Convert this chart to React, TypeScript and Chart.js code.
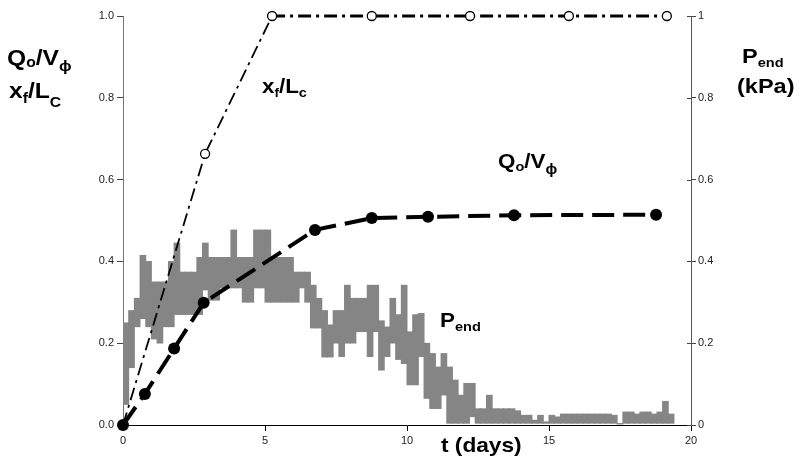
import React, { useEffect, useRef } from "react";
import { Chart, registerables } from "chart.js";

Chart.register(...registerables);

// P_end (kPa) noisy record: bin centres (days), low and high envelope
const pendDays = [
  0.1, 0.3, 0.5, 0.7, 0.9, 1.1, 1.3, 1.5, 1.7, 1.9,
  2.1, 2.3, 2.5, 2.7, 2.9, 3.1, 3.3, 3.5, 3.7, 3.9,
  4.1, 4.3, 4.5, 4.7, 4.9, 5.1, 5.3, 5.5, 5.7, 5.9,
  6.1, 6.3, 6.5, 6.7, 6.9, 7.1, 7.3, 7.5, 7.7, 7.9,
  8.1, 8.3, 8.5, 8.7, 8.9, 9.1, 9.3, 9.5, 9.7, 9.9,
  10.1, 10.3, 10.5, 10.7, 10.9, 11.1, 11.3, 11.5, 11.7, 11.9,
  12.1, 12.3, 12.5, 12.7, 12.9, 13.1, 13.3, 13.5, 13.7, 13.9,
  14.1, 14.3, 14.5, 14.7, 14.9, 15.1, 15.3, 15.5, 15.7, 15.9,
  16.1, 16.3, 16.5, 16.7, 16.9, 17.1, 17.3, 17.5, 17.7, 17.9,
  18.1, 18.3, 18.5, 18.7, 18.9, 19.1, 19.3,
];
const pendLow = [
  0.05, 0.14, 0.24, 0.26, 0.24, 0.21, 0.2, 0.24, 0.24, 0.27,
  0.27, 0.27, 0.27, 0.27, 0.33, 0.305, 0.305, 0.335, 0.335, 0.335,
  0.335, 0.3, 0.3, 0.335, 0.335, 0.3, 0.3, 0.3, 0.3, 0.3,
  0.3, 0.335, 0.3, 0.237, 0.237, 0.166, 0.166, 0.2, 0.167, 0.2,
  0.2, 0.228, 0.228, 0.167, 0.228, 0.134, 0.167, 0.2, 0.16, 0.15,
  0.098, 0.098, 0.167, 0.065, 0.04, 0.04, 0.073, 0.004, 0.004, 0.004,
  0.004, 0.02, 0.004, 0.004, 0.004, 0.004, 0.004, 0.004, 0.004, 0.004,
  0.004, 0.004, 0.004, 0.004, 0.004, 0.004, 0.004, 0.004, 0.004, 0.004,
  0.004, 0.004, 0.004, 0.004, 0.004, 0.004, 0.004, 0.002, 0.004, 0.004,
  0.004, 0.004, 0.004, 0.004, 0.004, 0.004, 0.004,
];
const pendHigh = [
  0.25, 0.28, 0.31, 0.415, 0.4, 0.35, 0.35, 0.35, 0.4, 0.445,
  0.374, 0.374, 0.374, 0.41, 0.445, 0.41, 0.41, 0.41, 0.41, 0.477,
  0.41, 0.41, 0.41, 0.477, 0.477, 0.477, 0.41, 0.41, 0.41, 0.41,
  0.374, 0.374, 0.374, 0.342, 0.31, 0.28, 0.245, 0.28, 0.28, 0.342,
  0.31, 0.31, 0.31, 0.342, 0.342, 0.255, 0.24, 0.31, 0.27, 0.342,
  0.228, 0.27, 0.273, 0.2, 0.175, 0.142, 0.175, 0.142, 0.11, 0.073,
  0.102, 0.102, 0.04, 0.04, 0.073, 0.04, 0.04, 0.04, 0.04, 0.035,
  0.024, 0.024, 0.012, 0.024, 0.008, 0.024, 0.02, 0.027, 0.027, 0.027,
  0.027, 0.027, 0.027, 0.027, 0.027, 0.027, 0.024, 0.004, 0.032, 0.032,
  0.027, 0.032, 0.032, 0.027, 0.032, 0.058, 0.027,
];

// Q_o / V_phi
const qDays = [0, 0.77, 1.8, 2.84, 6.76, 8.76, 10.74, 13.77, 18.77];
const qValues = [0, 0.076, 0.187, 0.299, 0.477, 0.506, 0.509, 0.513, 0.514];

// x_f / L_c
const xfDays = [0, 2.89, 5.25, 8.76, 12.22, 15.7, 19.15];
const xfValues = [0, 0.663, 1, 1, 1, 1, 1];

// tick labels
const xTickLabels = ["0", "5", "10", "15", "20"];
const leftTickLabels = ["0.0", "0.2", "0.4", "0.6", "0.8", "1.0"];
const rightTickLabels = ["0", "0.2", "0.4", "0.6", "0.8", "1"];

const FONT = "Arial, 'Liberation Sans', sans-serif";

type Part = [string, number, number]; // text, size, dy

function drawRich(ctx: CanvasRenderingContext2D, x: number, y: number, parts: Part[], sx = 1.12) {
  let cx = x;
  for (const [t, size, dy] of parts) {
    ctx.font = `bold ${size}px ${FONT}`;
    ctx.save();
    ctx.translate(cx, y + dy);
    ctx.scale(sx, 1);
    ctx.fillText(t, 0, 0);
    ctx.restore();
    cx += ctx.measureText(t).width * sx;
  }
}

const labelPlugin = {
  id: "richLabels",
  afterDraw(chart: any) {
    const ctx: CanvasRenderingContext2D = chart.ctx;
    ctx.save();
    ctx.fillStyle = "#000";
    ctx.textAlign = "left";
    ctx.textBaseline = "alphabetic";
    // left axis title
    drawRich(ctx, 7, 65, [["Q", 22, 0], ["o", 14, 2], ["/V", 22, 0], ["\u03d5", 15, 6]]);
    drawRich(ctx, 9, 98, [["x", 22, 0], ["f", 14, 5], ["/L", 22, 0], ["C", 14, 9]]);
    // right axis title
    drawRich(ctx, 742, 63, [["P", 21, 0], ["end", 13, 4]]);
    drawRich(ctx, 737, 93, [["(kPa)", 21, 0]]);
    // x axis title
    drawRich(ctx, 441, 452, [["t (days)", 21, 0]], 1.08);
    // in-plot labels
    drawRich(ctx, 262, 93, [["x", 20, 0], ["f", 12, 4], ["/L", 20, 0], ["c", 13, 4]]);
    drawRich(ctx, 498, 168, [["Q", 20, 0], ["o", 13, 3], ["/V", 20, 0], ["\u03d5", 14, 6]]);
    drawRich(ctx, 440, 327, [["P", 20, 0], ["end", 13, 4]]);

    // inner tick marks on right axis
    const y2 = chart.scales.y2;
    const x0 = y2.left;
    ctx.strokeStyle = "#444";
    ctx.lineWidth = 1;
    for (let i = 0; i < rightTickLabels.length; i++) {
      const py = Math.round(y2.getPixelForValue(i * 0.2)) + 0.5;
      ctx.beginPath();
      ctx.moveTo(x0 - 4, py);
      ctx.lineTo(x0, py);
      ctx.stroke();
    }
    ctx.restore();
  },
};

export default function App() {
  const ref = useRef<HTMLCanvasElement>(null);
  useEffect(() => {
    const canvas = ref.current!;
    const tickFont = { family: FONT, size: 11 };
    const chart = new Chart(canvas, {
      type: "bar",
      data: {
        datasets: [
          {
            type: "line",
            label: "Qo/V",
            data: qDays.map((d, i) => ({ x: d, y: qValues[i] })),
            borderColor: "#000",
            borderWidth: 4,
            borderDash: [22, 9],
            pointRadius: 6,
            pointBackgroundColor: "#000",
            pointBorderWidth: 0,
            tension: 0,
            clip: false,
            yAxisID: "y",
            order: 1,
          } as any,
          {
            type: "line",
            label: "xf/Lc",
            data: xfDays.map((d, i) => ({ x: d, y: xfValues[i] })),
            borderColor: "#000",
            borderWidth: 2,
            borderDash: [13, 5, 3, 5],
            segment: {
              borderWidth: (c: any) => (c.p0.parsed.y >= 0.999 ? 3 : 1.8),
            },
            pointRadius: 4.5,
            pointBackgroundColor: "#fff",
            pointBorderColor: "#000",
            pointBorderWidth: 1.3,
            tension: 0,
            clip: false,
            yAxisID: "y",
            order: 2,
          } as any,
          {
            type: "bar",
            label: "Pend",
            data: pendDays.map((d, i) => ({ x: d, y: [pendLow[i], pendHigh[i]] })),
            backgroundColor: "#858585",
            borderWidth: 0,
            borderSkipped: false,
            barThickness: 6,
            yAxisID: "y2",
            order: 3,
          } as any,
        ],
      },
      options: {
        responsive: false,
        animation: false,
        devicePixelRatio: 1,
        layout: { padding: { top: 16, left: 0, right: 0, bottom: 0 } },
        plugins: { legend: { display: false }, tooltip: { enabled: false } },
        scales: {
          x: {
            type: "linear",
            min: 0,
            max: 20,
            offset: false,
            grid: { drawOnChartArea: false, drawTicks: true, tickLength: 6, color: "#000", offset: false },
            border: { color: "#000", width: 1 },
            ticks: {
              stepSize: 5,
              padding: 3,
              maxRotation: 0,
              color: "#222",
              font: tickFont,
              callback: (v: any) => xTickLabels[Math.round(Number(v) / 5)] ?? "",
            },
            afterFit: (s: any) => {
              s.height = 35;
            },
          },
          y: {
            type: "linear",
            position: "left",
            min: 0,
            max: 1,
            grid: { drawOnChartArea: false, drawTicks: true, tickLength: 6, color: "#444" },
            border: { color: "#777", width: 1 },
            ticks: {
              stepSize: 0.2,
              padding: 3,
              color: "#222",
              font: tickFont,
              callback: (v: any) => leftTickLabels[Math.round(Number(v) / 0.2)] ?? "",
            },
            afterFit: (s: any) => {
              s.width = 123;
            },
          },
          y2: {
            type: "linear",
            position: "right",
            min: 0,
            max: 1,
            grid: { drawOnChartArea: false, drawTicks: true, tickLength: 5, color: "#444" },
            border: { color: "#555", width: 1 },
            ticks: {
              stepSize: 0.2,
              padding: 2,
              color: "#222",
              font: tickFont,
              callback: (v: any) => rightTickLabels[Math.round(Number(v) / 0.2)] ?? "",
            },
            afterFit: (s: any) => {
              s.width = 111;
            },
          },
        },
      } as any,
      plugins: [labelPlugin],
    });
    return () => chart.destroy();
  }, []);
  return (
    <div style={{ position: "fixed", left: 0, top: 0, width: 802, height: 460, background: "#fff" }}>
      <canvas ref={ref} width={802} height={460} style={{ display: "block", width: 802, height: 460 }} />
    </div>
  );
}
